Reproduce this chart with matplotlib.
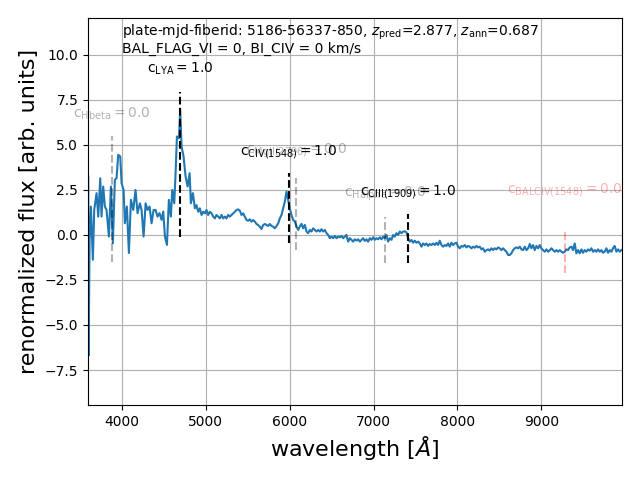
import matplotlib
matplotlib.use('Agg')
import matplotlib.pyplot as plt

# spectrum (wavelength in Angstrom, renormalized flux)
wave = [3603, 3607, 3619, 3634, 3658, 3674, 3702, 3722, 3746, 3761, 3781, 3801, 3821, 3849, 3873,
        3896, 3920, 3940, 3960, 3984, 4000, 4024, 4039, 4063, 4087, 4111, 4139, 4166, 4190, 4218,
        4238, 4262, 4286, 4309, 4333, 4357, 4381, 4405, 4428, 4452, 4476, 4496, 4516, 4540, 4563,
        4587, 4603, 4627, 4643, 4659, 4683, 4698, 4714, 4738, 4762, 4786, 4810, 4825, 4849,
        4873, 4892, 4912, 4932, 4952, 4972, 4992, 5011, 5031, 5051, 5071, 5091, 5111, 5130, 5150,
        5170, 5190, 5210, 5230, 5249, 5269, 5289, 5309, 5329, 5349, 5369, 5388, 5408, 5428, 5448,
        5468, 5488, 5507, 5527, 5547, 5567, 5587, 5607, 5626, 5646, 5666, 5686, 5706, 5726, 5745,
        5765, 5785, 5805, 5825, 5845, 5865, 5884, 5904, 5924, 5944, 5964, 5984, 6003, 6023, 6043,
        6063, 6083, 6103, 6123, 6142, 6162, 6182, 6202, 6222, 6242, 6261, 6281, 6301, 6321, 6341,
        6361, 6380, 6400, 6420, 6440, 6460, 6480, 6499, 6519, 6539, 6559, 6579, 6599, 6619, 6638,
        6658, 6678, 6698, 6718, 6738, 6757, 6777, 6797, 6817, 6837, 6857, 6876, 6896, 6916, 6936,
        6956, 6976, 6995, 7015, 7035, 7055, 7075, 7095, 7115, 7134, 7154, 7174, 7194, 7214, 7234,
        7253, 7273, 7293, 7313, 7333, 7353,
        7373, 7392, 7412, 7432, 7452, 7472, 7492, 7511, 7531, 7551, 7571, 7591, 7611, 7630, 7650,
        7670, 7690, 7710, 7730, 7749, 7769, 7789, 7809, 7829, 7849, 7869, 7888, 7908, 7928, 7948,
        7968, 7988, 8007, 8027, 8047, 8067, 8087, 8107, 8126, 8146, 8166, 8186, 8206, 8226, 8245,
        8265, 8285, 8305, 8325, 8345, 8365, 8384, 8404, 8424, 8444, 8464, 8484, 8503, 8523, 8543,
        8563, 8583, 8603,
        8623, 8642, 8662, 8682, 8702, 8722, 8742, 8761, 8781, 8801, 8821, 8841, 8861, 8880, 8900,
        8920, 8940, 8960, 8980, 8999, 9019, 9039, 9059, 9079, 9099, 9119, 9138, 9158, 9178, 9198,
        9218, 9238, 9257, 9277, 9297, 9317, 9337, 9357, 9376, 9396, 9416, 9436, 9456, 9476, 9495,
        9515, 9535, 9555, 9575, 9595, 9614, 9634, 9654, 9674, 9694, 9714, 9733, 9753, 9773, 9793,
        9813, 9833, 9852, 9872, 9892, 9912, 9932, 9952]

flux = [3.25, -6.7, -0.27, 1.58, -1.38, 1.39, 2.32, 1.02, 3.15, 1.02, 2.69, 1.58, 1.39, -0.09, 2.69,
        -0.46, 3.06, 3.15, 4.45, 4.36, 2.87, 2.50, 0.65, 1.58, -1.0, 1.95, 1.39, 2.50, 1.21, 1.76,
        1.39, -0.09, 1.76, 1.39, 1.58, 0.65, 1.39, 1.39, 1.02, 1.21, 0.84, 1.30, -0.09, -0.55, 1.95,
        1.02, 2.50, 1.76, 3.43, 5.47, 5.37, 6.95, 4.91, 4.36, 3.25, 2.69, 3.43, 1.76, 2.32,
        1.48, 1.66, 1.29, 1.48, 1.11, 1.29, 1.20, 1.39, 1.11, 1.29, 1.20, 1.02, 0.92, 1.11, 1.02,
        0.92, 1.11, 0.92, 1.02, 0.92, 1.11, 1.02, 1.11, 1.20, 1.29, 1.39, 1.42, 1.35, 1.11, 1.20,
        1.02, 0.83, 0.79, 0.87, 0.74, 0.83, 0.74, 0.61, 0.55, 0.46, 0.33, 0.55, 0.61, 0.55, 0.50,
        0.61, 0.50, 0.46, 0.37, 0.50, 0.65, 0.92, 1.11, 1.48, 1.85, 2.41, 1.94, 1.48, 1.11, 0.83,
        0.75, 0.47, 0.28, 0.47, 0.62, 0.37, 0.56, 0.19, 0.10, 0.28, 0.19, 0.37, 0.28, 0.19, 0.28,
        0.19, 0.32, 0.19, 0.28, 0.10, 0.0, -0.18, -0.09, -0.18, -0.05, -0.18, -0.09, -0.13, -0.05, -0.18,
        -0.09, 0.0, -0.37, -0.18, -0.27, -0.37, -0.24, -0.31, -0.24, -0.37, -0.27, -0.18, -0.33, -0.24, -0.37,
        -0.18, -0.27, -0.13, -0.27, -0.18, -0.24, -0.13, -0.24, -0.09, -0.18, 0.0, -0.37, -0.18, -0.27, 0.0,
        -0.09, 0.10, 0.0, 0.19, 0.10, 0.19,
        0.20, 0.15, -0.19, -0.37, -0.28, -0.43, -0.32, -0.43, -0.37, -0.47, -0.65, -0.47, -0.56, -0.47, -0.61,
        -0.50, -0.56, -0.47, -0.56, -0.43, -0.56, -0.32, -0.56, -0.65, -0.56, -0.61, -0.47, -0.65, -0.43, -0.56,
        -0.47, -0.43, -0.65, -0.74, -0.61, -0.65, -0.56, -0.69, -0.61, -0.65, -0.74, -0.65, -0.71, -0.61, -0.69,
        -0.65, -0.80, -0.74, -0.93, -0.84, -0.80, -0.87, -0.74, -0.84, -0.74, -0.80, -0.69, -0.74, -0.84, -0.74,
        -0.84, -0.93, -1.11,
        -1.11, -1.02, -0.84, -0.74, -0.69, -0.74, -0.65, -0.80, -0.84, -0.65, -0.84, -0.74, -0.50, -0.74, -0.56,
        -0.84, -0.61, -0.74, -0.56, -0.74, -0.84, -0.93, -0.80, -0.93, -0.84, -0.74, -0.84, -0.93, -0.84, -0.93,
        -0.84, -0.93, -0.99, -0.93, -0.80, -0.84, -0.69, -0.65, -0.84, -0.47, -1.02, -0.84, -1.02, -0.80, -0.99,
        -0.84, -0.93, -0.80, -0.87, -0.74, -0.93, -0.84, -0.93, -0.80, -0.93, -0.84, -0.99, -0.93, -0.74, -0.99,
        -0.84, -0.93, -0.74, -0.61, -0.93, -0.80, -0.93, -0.84]

# emission / absorption line markers: name, position, confidence, line extent, label baseline
line_names = ['LYA', 'Hbeta', 'CIV(1548)', 'MgII(2796)', 'Halpha', 'CIII(1909)', 'BALCIV(1548)']
line_wave = [4697, 3881, 5990, 6077, 7134, 7405, 9277]
line_c = [1.0, 0.0, 1.0, 0.0, 0.0, 1.0, 0.0]
line_lo = [-0.1, -1.48, -0.46, -0.83, -1.56, -1.57, -2.13]
line_hi = [7.96, 5.5, 3.43, 3.15, 0.98, 1.17, 0.18]
label_y = [9.0, 6.54, 4.44, 4.5, 2.13, 2.22, 2.3]

fig, ax = plt.subplots(figsize=(6.4, 4.8), dpi=100)
fig.subplots_adjust(left=0.1375, right=0.972, top=0.9625, bottom=0.156)

ax.plot(wave, flux, color='C0', lw=1.5)

for name, w, c, lo, hi, ly in zip(line_names, line_wave, line_c, line_lo, line_hi, label_y):
    col = 'r' if name.startswith('BAL') else 'k'
    alpha = 1.0 if c > 0.5 else 0.3
    ax.vlines(w, lo, hi, colors=col, linestyles='--', lw=1.5, alpha=alpha)
    ax.text(w, ly, r'$\rm c_{%s} = %.1f$' % (name, c), color=col, alpha=alpha,
            ha='center', va='baseline', fontsize=10)

ax.text(4000, 11.07, r'plate-mjd-fiberid: 5186-56337-850, $z_{\rm pred}$=2.877, $z_{\rm ann}$=0.687',
        fontsize=10, va='baseline')
ax.text(4000, 10.09, 'BAL_FLAG_VI = 0, BI_CIV = 0 km/s', fontsize=10, va='baseline')

ax.set_xlim(3600, 9960)
ax.set_ylim(-9.45, 12.05)
ax.grid()
ax.set_xlabel(r'wavelength [$\AA$]', fontsize=16)
ax.set_ylabel('renormalized flux [arb. units]', fontsize=16)

plt.savefig('out.png')
